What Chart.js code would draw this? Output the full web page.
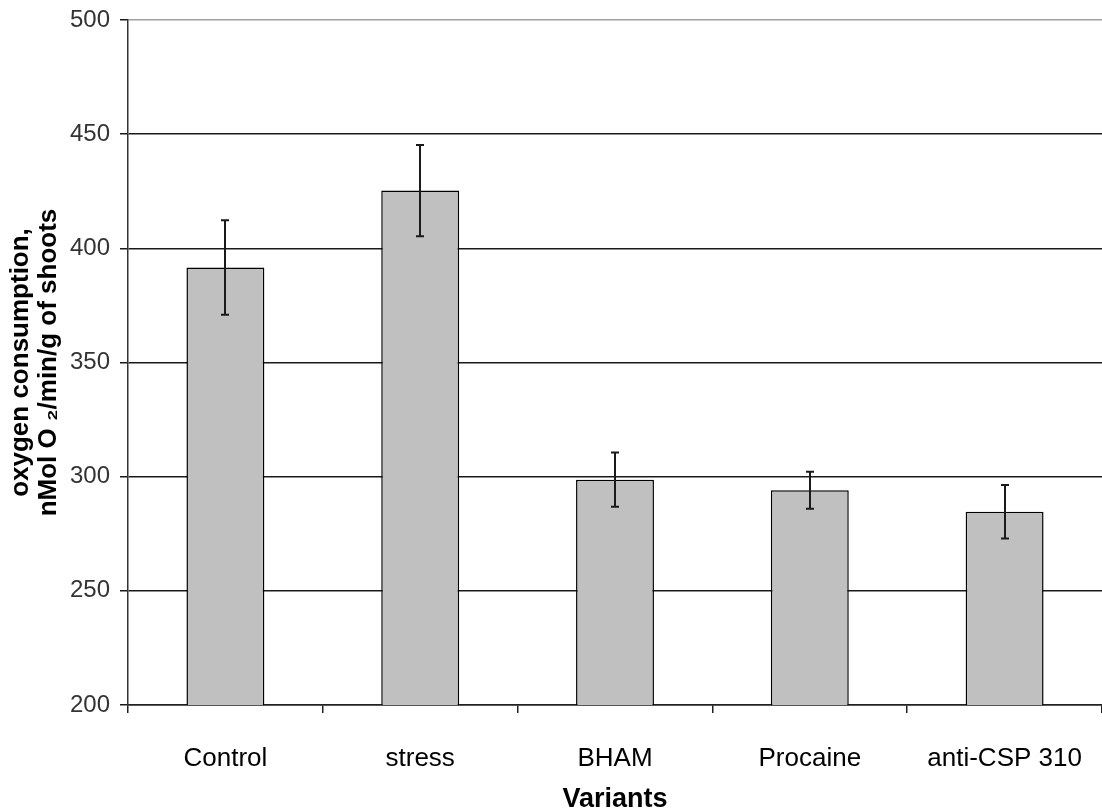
<!DOCTYPE html>
<html>
<head>
<meta charset="utf-8">
<script src="https://cdn.jsdelivr.net/npm/chart.js@4.4.1/dist/chart.umd.min.js"></script>
<style>
  html, body { margin: 0; padding: 0; background: #fff; }
  canvas { display: block; }
</style>
</head>
<body>
<canvas id="oxyChart" width="1102" height="810"></canvas>
<script>
const categories = ["Control", "stress", "BHAM", "Procaine", "anti-CSP 310"];
const means = [391.6, 425.3, 298.7, 294.0, 284.6];
const errors = [20.7, 20.0, 11.9, 8.1, 11.7];
const yTicks = [200, 250, 300, 350, 400, 450, 500];

// error bars, positioned with the chart's own scales
const errorBarPlugin = {
  id: "errorBars",
  afterDatasetsDraw(chart){
    const meta = chart.getDatasetMeta(0);
    const yScale = chart.scales.y;
    const ctx = chart.ctx;
    ctx.save();
    ctx.strokeStyle = "#1a1a1a";
    ctx.lineWidth = 2;
    meta.data.forEach(function(bar, i){
      const x = Math.round(bar.x);
      const top = yScale.getPixelForValue(means[i] + errors[i]);
      const bot = yScale.getPixelForValue(means[i] - errors[i]);
      ctx.beginPath();
      ctx.moveTo(x, top); ctx.lineTo(x, bot);
      ctx.moveTo(x - 4, top); ctx.lineTo(x + 4, top);
      ctx.moveTo(x - 4, bot); ctx.lineTo(x + 4, bot);
      ctx.stroke();
    });
    ctx.restore();
  }
};

new Chart(document.getElementById("oxyChart"), {
  type: "bar",
  data: {
    labels: categories,
    datasets: [{
      data: means,
      backgroundColor: "#c0c0c0",
      borderColor: "#000",
      borderWidth: 1.5,
      barPercentage: 0.4,
      categoryPercentage: 1.0
    }]
  },
  options: {
    responsive: false,
    devicePixelRatio: 1,
    animation: false,
    layout: { padding: { top: 20, right: 0, left: 0, bottom: 0 } },
    plugins: {
      legend: { display: false },
      tooltip: { enabled: false }
    },
    scales: {
      x: {
        afterFit: function(scale){
          scale.height = 105;
          scale.paddingLeft = 0;
          scale.paddingRight = 0;
        },
        grid: {
          offset: true,
          drawOnChartArea: false,
          drawTicks: true,
          tickLength: 8,
          color: "#222",
          lineWidth: 1.5
        },
        border: { display: true, color: "#222", width: 1.5 },
        ticks: {
          color: "#000",
          padding: 30,
          font: { family: "'Liberation Sans', Arial, sans-serif", size: 26 }
        },
        title: {
          display: true,
          text: "Variants",
          color: "#000",
          padding: { top: 0, bottom: 0 },
          font: { family: "'Liberation Sans', Arial, sans-serif", size: 27, weight: "bold", lineHeight: 0.8 }
        }
      },
      y: {
        min: 200,
        max: 500,
        afterFit: function(scale){
          scale.width = 128;
          scale.paddingTop = 0;
          scale.paddingBottom = 0;
        },
        afterBuildTicks: function(scale){
          scale.ticks = yTicks.map(function(v){ return { value: v }; });
        },
        grid: {
          color: function(ctx){ return ctx.tick && ctx.tick.value === 500 ? "#a0a0a0" : "#1a1a1a"; },
          tickColor: "#1a1a1a",
          lineWidth: 1.5,
          tickLength: 8
        },
        border: { display: true, color: "#333", width: 1.5 },
        ticks: {
          color: "#333",
          padding: 10,
          font: { family: "'Liberation Sans', Arial, sans-serif", size: 24 }
        },
        title: {
          display: true,
          text: ["oxygen consumption,", "nMol O \u2082/min/g of shoots"],
          color: "#000",
          padding: { top: 7, bottom: 0 },
          font: { family: "'Liberation Sans', Arial, sans-serif", size: 26, weight: "bold", lineHeight: 1.08 }
        }
      }
    }
  },
  plugins: [errorBarPlugin]
});
</script>
</body>
</html>
